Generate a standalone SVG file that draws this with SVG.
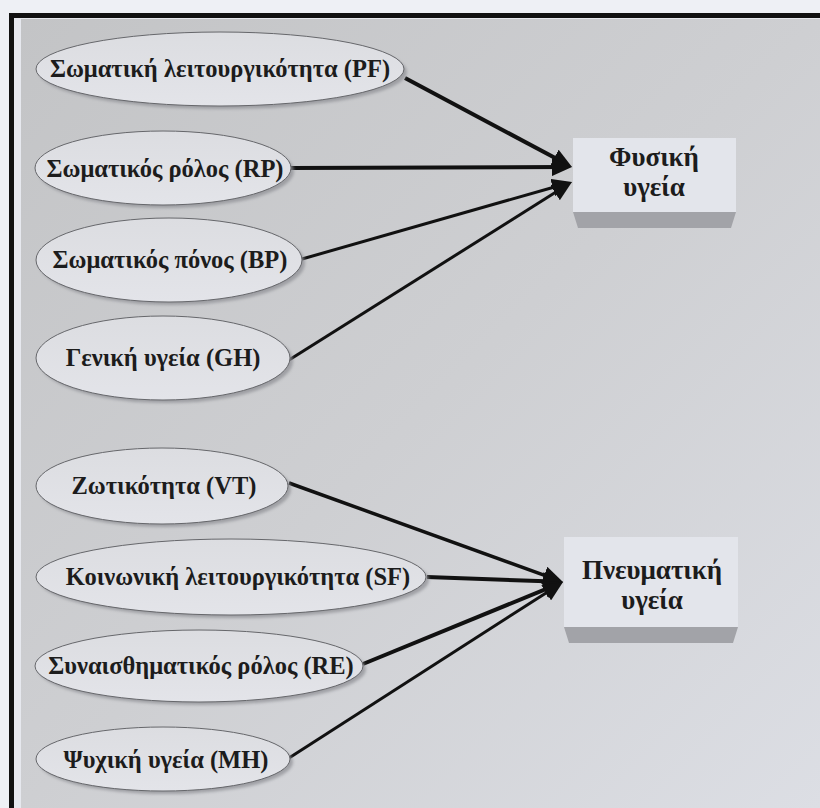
<svg xmlns="http://www.w3.org/2000/svg" width="820" height="808" viewBox="0 0 820 808">
  <style>
    .lbl { font-family: "Liberation Serif", "Times New Roman", serif; font-weight: bold; font-size: 24.5px; fill: #1c1c1c; text-anchor: middle; }
    .blbl { font-family: "Liberation Serif", "Times New Roman", serif; font-weight: bold; font-size: 27px; fill: #1c1c1c; text-anchor: middle; }
    .oval { fill: url(#ovalFill); stroke: #66676b; stroke-width: 1; }
    .ovalShadow { fill: #8f9095; opacity: 0.75; filter: url(#blur); }
    .box { fill: #e3e5eb; }
    .boxShadow { fill: #a2a3a8; }
    .conn { fill: none; stroke: #111; stroke-linecap: butt; marker-end: url(#arrow); }
  </style>
  <defs>
    <linearGradient id="bg" x1="0" y1="0" x2="1" y2="1">
      <stop offset="0" stop-color="#c3c4c6"/>
      <stop offset="0.5" stop-color="#cecfd2"/>
      <stop offset="1" stop-color="#dcdee4"/>
    </linearGradient>
    <linearGradient id="ovalFill" x1="0" y1="0" x2="0" y2="1">
      <stop offset="0" stop-color="#dcdde1"/>
      <stop offset="1" stop-color="#e3e4e9"/>
    </linearGradient>
    <filter id="blur" x="-10%" y="-20%" width="120%" height="140%">
      <feGaussianBlur stdDeviation="1.6"/>
    </filter>
    <marker id="arrow" markerUnits="userSpaceOnUse" viewBox="0 0 20 18" markerWidth="20" markerHeight="18" refX="10" refY="9" orient="auto">
      <path d="M0,0 L20,9 L0,18 z" fill="#111"/>
    </marker>
  </defs>

  <!-- page and frame -->
  <rect x="0" y="0" width="820" height="808" fill="#eef0f5"/>
  <rect x="9" y="13" width="811" height="795" fill="#111"/>
  <rect x="14" y="18" width="806" height="790" fill="#e6e8ee"/>
  <rect x="21" y="19" width="799" height="789" fill="url(#bg)"/>

  <!-- connectors -->
  <g id="connectors">
    <path class="conn" stroke-width="4" d="M405,78 L563.2,162.3"/>
    <path class="conn" stroke-width="4" d="M291,168 L562,167"/>
    <path class="conn" stroke-width="3" d="M302,259 L562.4,184.7"/>
    <path class="conn" stroke-width="3" d="M289,360 L563.5,187.3"/>
    <path class="conn" stroke-width="3.5" d="M289,483 L553.6,578.6"/>
    <path class="conn" stroke-width="4" d="M427,577 L553,581.6"/>
    <path class="conn" stroke-width="4" d="M363,664 L553.7,585.8"/>
    <path class="conn" stroke-width="3" d="M289,758 L554.6,587.4"/>
  </g>

  <!-- input nodes -->
  <g id="node-PF">
    <ellipse class="ovalShadow" cx="223" cy="72" rx="184" ry="37"/>
    <ellipse class="oval" cx="220" cy="69" rx="184" ry="37"/>
    <text class="lbl" x="220" y="77">Σωματική λειτουργικότητα (PF)</text>
  </g>
  <g id="node-RP">
    <ellipse class="ovalShadow" cx="166" cy="171" rx="128" ry="37"/>
    <ellipse class="oval" cx="163" cy="168" rx="128" ry="37"/>
    <text class="lbl" x="165" y="177">Σωματικός ρόλος (RP)</text>
  </g>
  <g id="node-BP">
    <ellipse class="ovalShadow" cx="172" cy="263" rx="133" ry="42"/>
    <ellipse class="oval" cx="169" cy="260" rx="133" ry="42"/>
    <text class="lbl" x="170" y="268">Σωματικός πόνος (BP)</text>
  </g>
  <g id="node-GH">
    <ellipse class="ovalShadow" cx="166" cy="361" rx="127" ry="42"/>
    <ellipse class="oval" cx="163" cy="358" rx="127" ry="42"/>
    <text class="lbl" x="163" y="366">Γενική υγεία (GH)</text>
  </g>
  <g id="node-VT">
    <ellipse class="ovalShadow" cx="165" cy="489" rx="126" ry="38"/>
    <ellipse class="oval" cx="162" cy="486" rx="126" ry="38"/>
    <text class="lbl" x="164" y="494">Ζωτικότητα (VT)</text>
  </g>
  <g id="node-SF">
    <ellipse class="ovalShadow" cx="234" cy="580" rx="195" ry="38"/>
    <ellipse class="oval" cx="231" cy="577" rx="195" ry="38"/>
    <text class="lbl" x="238" y="585">Κοινωνική λειτουργικότητα (SF)</text>
  </g>
  <g id="node-RE">
    <ellipse class="ovalShadow" cx="202" cy="669" rx="164" ry="36"/>
    <ellipse class="oval" cx="199" cy="666" rx="164" ry="36"/>
    <text class="lbl" x="201" y="674">Συναισθηματικός ρόλος (RE)</text>
  </g>
  <g id="node-MH">
    <ellipse class="ovalShadow" cx="166" cy="762" rx="127" ry="32"/>
    <ellipse class="oval" cx="163" cy="759" rx="127" ry="32"/>
    <text class="lbl" x="166" y="768">Ψυχική υγεία (MH)</text>
  </g>

  <!-- outcome nodes -->
  <g id="node-physical">
    <polygon class="boxShadow" points="573,212 736,212 731,228 578,228"/>
    <rect class="box" x="573" y="138" width="163" height="74"/>
    <text class="blbl" x="654" y="166">Φυσική</text>
    <text class="blbl" x="654" y="196">υγεία</text>
  </g>
  <g id="node-mental">
    <polygon class="boxShadow" points="564,627 738,627 733,643 569,643"/>
    <rect class="box" x="564" y="537" width="174" height="90"/>
    <text class="blbl" x="652" y="579">Πνευματική</text>
    <text class="blbl" x="652" y="609">υγεία</text>
  </g>
</svg>
